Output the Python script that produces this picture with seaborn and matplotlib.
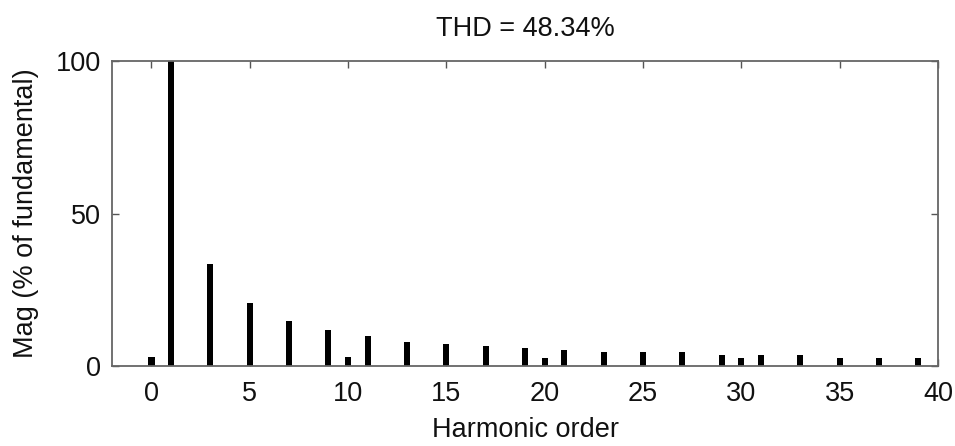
import numpy as np
import pandas as pd
import matplotlib
matplotlib.use("Agg")
import matplotlib.pyplot as plt
import seaborn as sns

harmonic_order = [0, 1, 3, 5, 7, 9, 10, 11, 13, 15, 17, 19, 20, 21, 23, 25, 27, 29, 30, 31, 33, 35, 37, 39]
magnitude = [2.9, 100, 33.6, 20.6, 14.9, 12.0, 2.9, 9.8, 8.0, 7.3, 6.7, 6.0, 2.6, 5.2, 4.6, 4.6, 4.6, 3.7, 2.6, 3.7, 3.7, 2.7, 2.7, 2.7]
x_ticks = [0, 5, 10, 15, 20, 25, 30, 35, 40]
y_ticks = [0, 50, 100]
title_text = "THD = 48.34%"

df = pd.DataFrame({"h": harmonic_order, "mag": magnitude})

sns.set_theme(style="white")
plt.rcParams['font.family'] = ['Liberation Sans', 'DejaVu Sans']

fig = plt.figure(figsize=(9.55, 4.46), dpi=100)
ax = fig.add_axes([0.1173, 0.179, 0.9822 - 0.1173, 0.863 - 0.179])

sns.barplot(data=df, x="h", y="mag", native_scale=True, width=0.32,
            color="black", saturation=1, edgecolor="none", linewidth=0, ax=ax)

FS = 19.5
ax.set_xlim(-2, 40)
ax.set_ylim(0, 100)
ax.set_xticks(x_ticks)
ax.set_yticks(y_ticks)
ax.set_xticklabels([str(t) for t in x_ticks])
ax.set_yticklabels([str(t) for t in y_ticks])
ax.tick_params(direction="in", length=5, width=1, colors="#555555",
               top=True, right=True, bottom=True, left=True,
               labelsize=FS, labelcolor="#111111")
ax.tick_params(axis="x", pad=11)
ax.tick_params(axis="y", pad=8)
for s in ax.spines.values():
    s.set_visible(True)
    s.set_color("#666666")
    s.set_linewidth(1.3)

ax.set_xlabel("Harmonic order", fontsize=FS, color="#111111", labelpad=7)
ax.set_ylabel("Mag (% of fundamental)", fontsize=FS, color="#111111", labelpad=12)
ax.set_title(title_text, fontsize=FS, color="#111111", pad=18)

fig.savefig("out.png", dpi=100)
